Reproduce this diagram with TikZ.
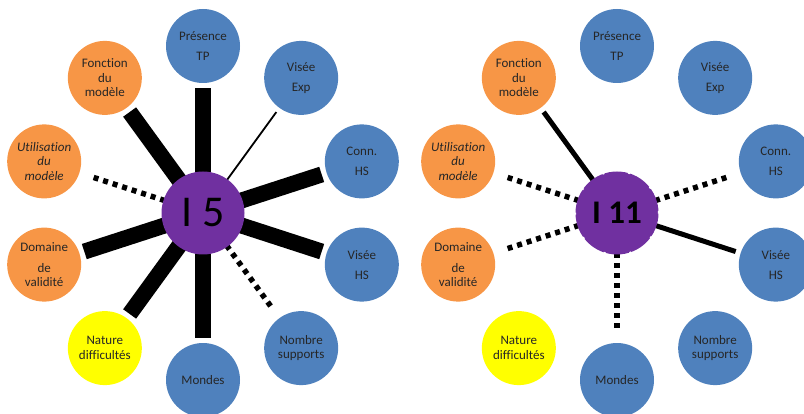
\documentclass[tikz,border=0pt]{standalone}
\usepackage{fontspec}
\setmainfont{Carlito}[Ligatures=NoCommon]
\pgfdeclarelayer{bg}
\pgfsetlayers{bg,main}
\definecolor{cblue}{RGB}{79,129,189}
\definecolor{corange}{RGB}{247,150,70}
\definecolor{cyellow}{RGB}{255,255,0}
\definecolor{cpurple}{RGB}{112,48,160}
\tikzset{
  outer/.style={circle, minimum size=74pt, inner sep=0pt, align=center,
    font=\fontsize{13}{14.5}\selectfont, text=black!85},
  bluec/.style={outer, fill=cblue},
  orangec/.style={outer, fill=corange},
  yellowc/.style={outer, fill=cyellow},
  ital/.style={font=\fontsize{13}{14.5}\selectfont\itshape},
  hub/.style={circle, minimum size=83pt, inner sep=0pt, fill=cpurple, text=black},
  thickbar/.style={line width=16pt, shorten >=5pt},
  thinbar/.style={line width=1.8pt, shorten >=5pt},
  medbar/.style={line width=5pt, shorten >=5pt},
  dotbar/.style={line width=5.5pt, dash pattern=on 5pt off 5pt, shorten >=10pt},
}
\begin{document}
\begin{tikzpicture}[x=1pt,y=1pt]
\useasboundingbox (0,0) rectangle (804,413);
\clip (0,0) rectangle (804,413);
% ---------- left diagram ----------
\node[hub, font=\fontsize{44}{44}\selectfont] (Lc) at (203,200) {I 5};
\node[bluec]   (Lpres) at ([shift={(90:167)}]Lc.center)  {Présence\\[5.5pt]TP};
\node[bluec]   (Lvexp) at ([shift={(54:167)}]Lc.center)  {Visée\\[5.5pt]Exp};
\node[bluec]   (Lconn) at ([shift={(18:167)}]Lc.center)  {Conn.\\[5.5pt]HS};
\node[bluec]   (Lvhs)  at ([shift={(-18:167)}]Lc.center) {Visée\\[5.5pt]HS};
\node[bluec]   (Lnomb) at ([shift={(-54:167)}]Lc.center) {Nombre\\supports};
\node[bluec]   (Lmond) at ([shift={(-90:167)}]Lc.center) {Mondes};
\node[yellowc] (Lnat)  at ([shift={(-126:167)}]Lc.center) {Nature\\difficultés};
\node[orangec] (Ldom)  at ([shift={(198:167)}]Lc.center)  {Domaine\\[6pt]de\\validité};
\node[orangec, ital] (Lutil) at ([shift={(162:167)}]Lc.center) {Utilisation\\du\\modèle};
\node[orangec] (Lfonc) at ([shift={(126:167)}]Lc.center)  {Fonction\\du\\modèle};
\begin{pgfonlayer}{bg}
\draw[thickbar] (Lc.center) -- (Lpres);
\draw[thinbar]  (Lc.center) -- (Lvexp);
\draw[thickbar] (Lc.center) -- (Lconn);
\draw[thickbar] (Lc.center) -- (Lvhs);
\draw[dotbar]   (Lc.center) -- (Lnomb);
\draw[thickbar] (Lc.center) -- (Lmond);
\draw[thickbar] (Lc.center) -- (Lnat);
\draw[thickbar] (Lc.center) -- (Ldom);
\draw[dotbar]   (Lc.center) -- (Lutil);
\draw[thickbar] (Lc.center) -- (Lfonc);
\end{pgfonlayer}
% ---------- right diagram ----------
\node[hub, font=\fontsize{33}{33}\selectfont\bfseries] (Rc) at (617,200) {I 11};
\draw[white, line width=1.2pt, dash pattern=on 2pt off 24pt] (Rc.center) circle[radius=41.5pt];
\node[bluec]   (Rpres) at ([shift={(90:167)}]Rc.center)  {Présence\\[5.5pt]TP};
\node[bluec]   (Rvexp) at ([shift={(54:167)}]Rc.center)  {Visée\\[5.5pt]Exp};
\node[bluec]   (Rconn) at ([shift={(18:167)}]Rc.center)  {Conn.\\[5.5pt]HS};
\node[bluec]   (Rvhs)  at ([shift={(-18:167)}]Rc.center) {Visée\\[5.5pt]HS};
\node[bluec]   (Rnomb) at ([shift={(-54:167)}]Rc.center) {Nombre\\supports};
\node[bluec]   (Rmond) at ([shift={(-90:167)}]Rc.center) {Mondes};
\node[yellowc] (Rnat)  at ([shift={(-126:167)}]Rc.center) {Nature\\difficultés};
\node[orangec] (Rdom)  at ([shift={(198:167)}]Rc.center)  {Domaine\\[6pt]de\\validité};
\node[orangec, ital] (Rutil) at ([shift={(162:167)}]Rc.center) {Utilisation\\du\\modèle};
\node[orangec] (Rfonc) at ([shift={(126:167)}]Rc.center)  {Fonction\\du\\modèle};
\begin{pgfonlayer}{bg}
\draw[medbar] (Rc.center) -- (Rfonc);
\draw[dotbar] (Rc.center) -- (Rutil);
\draw[dotbar] (Rc.center) -- (Rdom);
\draw[dotbar] (Rc.center) -- (Rmond);
\draw[dotbar] (Rc.center) -- (Rconn);
\draw[medbar] (Rc.center) -- (Rvhs);
\end{pgfonlayer}
\end{tikzpicture}
\end{document}
